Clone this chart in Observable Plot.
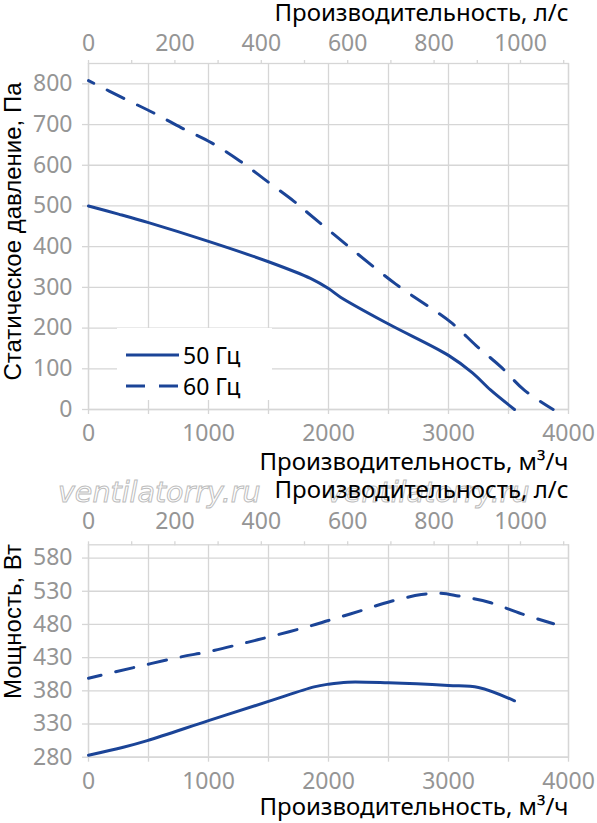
<!DOCTYPE html>
<html><head><meta charset="utf-8">
<script src="https://cdn.jsdelivr.net/npm/d3@7"></script>
<script src="https://cdn.jsdelivr.net/npm/@observablehq/plot@0.6"></script>
<style>
html,body{margin:0;padding:0;background:#fff;}
#wrap{position:relative;width:597px;height:823px;overflow:hidden;}
#wrap svg.chart{position:absolute;left:0;}
#wm{position:absolute;left:0;top:0;}
.legend{position:absolute;left:117px;top:328px;width:155px;height:72px;background:#fff;font:23px "Noto Sans";color:#000;}
.legend .row{position:absolute;left:9px;height:30px;display:flex;align-items:center;}
.legend .row svg{margin-right:4px;}
</style></head><body>
<div id="wrap"></div>
<script>
// ---------- data ----------
const flow50 = [0, 250, 500, 1000, 1500, 1850, 2000, 2100, 2500, 3000, 3200, 3350, 3550];
const pres50 = [500, 480, 459, 413, 363, 322, 297, 276, 210, 133, 90, 48, 0];
const flow60 = [0, 290, 540, 775, 1026, 1264, 1487, 1710, 1808, 2128, 2561, 3021, 3230, 3439, 3634, 3872];
const pres60 = [808, 765, 729, 692, 655, 610, 561, 512, 488, 410, 308, 214, 157, 104, 47, 0];

const flowP50 = [0, 290, 490, 1000, 1500, 1880, 2000, 2160, 2500, 3000, 3250, 3550];
const power50 = [283, 295, 305, 335, 364, 386, 390, 393, 392, 388, 385, 365];
const flowP60 = [0, 376, 767, 1000, 1324, 1500, 1854, 2000, 2258, 2523, 2774, 2926, 3080, 3345, 3610, 3875];
const power60 = [399, 415, 431, 439, 453, 461, 478, 486, 500, 515, 525, 527, 523, 513, 496, 481];

const flowTicks = [0, 1000, 2000, 3000, 4000];
const flowGrid = [0, 500, 1000, 1500, 2000, 2500, 3000, 3500, 4000];
const lsTicks = [0, 200, 400, 600, 800, 1000];
const lsMinor = [0, 100, 200, 300, 400, 500, 600, 700, 800, 900, 1000, 1100];
const presTicks = [0, 100, 200, 300, 400, 500, 600, 700, 800];
const powerTicks = [280, 330, 380, 430, 480, 530, 580];
const seriesNames = ["50 Гц", "60 Гц"];
const LS = 3.6; // m3/h per l/s

const flowTitle = "Производительность, м³/ч";
const lsTitle = "Производительность, л/с";
const presTitle = "Статическое давление, Па";
const powerTitle = "Мощность, Вт";
const watermark = "ventilatorry.ru";

// ---------- style ----------
const BLUE = "#1b4497";
const GRID = "#d6d6d6";
const TICKC = "#959595";
const FONT = "Noto Sans";
const TFONT = "Liberation Sans";
const DASH = "18.5,15";

const rows = (xs, ys) => xs.map((x, i) => ({x, y: ys[i]}));

function chart({height, marginTop, marginBottom, yDomain, yTicks, s1, s2, yTitle, yTitleDy, topPad, botPad, dashOffset, botTitleDy, topTitleDy}) {
  return Plot.plot({
    width: 597, height,
    marginTop, marginBottom, marginLeft: 88, marginRight: 29,
    style: {background: "transparent", fontFamily: FONT, fontSize: "23px", overflow: "visible"},
    x: {domain: [0, 4000]},
    y: {domain: yDomain},
    marks: [
      Plot.gridX(flowGrid, {stroke: GRID, strokeOpacity: 1, strokeWidth: 1.3}),
      Plot.gridY(yTicks, {stroke: GRID, strokeOpacity: 1, strokeWidth: 1.3}),
      Plot.frame({stroke: GRID, strokeWidth: 1.3}),
      // bottom tick marks
      Plot.axisX(flowGrid, {anchor: "bottom", tickSize: 5, stroke: GRID, strokeWidth: 1.3, tickFormat: () => "", label: null}),
      // bottom labels
      Plot.axisX(flowTicks, {anchor: "bottom", tickSize: 0, tickPadding: botPad, fill: TICKC, tickFormat: d => String(d), label: null}),
      // top minor ticks (l/s)
      Plot.axisX(lsMinor.map(v => v * LS), {anchor: "top", tickSize: 4, stroke: GRID, strokeWidth: 1.3, tickFormat: () => "", label: null}),
      // top labels (l/s)
      Plot.axisX(lsTicks.map(v => v * LS), {anchor: "top", tickSize: 0, tickPadding: topPad, fill: TICKC, tickFormat: d => String(Math.round(d / LS)), label: null}),
      // y axis
      Plot.axisY(yTicks, {anchor: "left", tickSize: 6, tickPadding: 10, stroke: GRID, strokeWidth: 1.3, fill: TICKC, tickFormat: d => String(d), label: null}),
      // titles
      Plot.text([flowTitle], {text: d => d, frameAnchor: "bottom-right", textAnchor: "end", lineAnchor: "middle", dy: botTitleDy, fill: "#000", fontFamily: FONT, fontSize: 24}),
      Plot.text([lsTitle], {text: d => d, frameAnchor: "top-right", textAnchor: "end", lineAnchor: "middle", dy: topTitleDy, fill: "#000", fontFamily: FONT, fontSize: 24}),
      Plot.text([yTitle], {text: d => d, frameAnchor: "left", rotate: -90, textAnchor: "middle", lineAnchor: "middle", dx: -75, dy: yTitleDy, fill: "#000", fontFamily: TFONT, fontSize: 24}),
      // series
      Plot.line(s1, {x: "x", y: "y", stroke: BLUE, strokeWidth: 3, curve: "catmull-rom"}),
      Plot.line(s2, {x: "x", y: "y", stroke: BLUE, strokeWidth: 3, curve: "catmull-rom", strokeDasharray: DASH, strokeDashoffset: dashOffset})
    ]
  });
}

const wrap = document.getElementById("wrap");

// watermark (behind the charts)
const wm = d3.select(wrap).append("svg").attr("id", "wm").attr("width", 597).attr("height", 823);
[58, 327].forEach(x0 => {
  wm.append("text").attr("x", x0).attr("y", 501.5)
    .attr("font-family", "DejaVu Sans").attr("font-style", "italic").attr("font-size", 28.5)
    .attr("fill", "#fff").attr("stroke", "#bdbdbd").attr("stroke-width", 1)
    .text(watermark);
});

const c1 = chart({
  height: 475, marginTop: 63, marginBottom: 66,
  yDomain: [0, 850], yTicks: presTicks,
  s1: rows(flow50, pres50), s2: rows(flow60, pres60),
  yTitle: presTitle, yTitleDy: -5, topPad: 13, botPad: 15, dashOffset: 12.5,
  botTitleDy: 53, topTitleDy: -50
});
c1.classList.add("chart");
c1.style.top = "0px";
wrap.appendChild(c1);

const c2 = chart({
  height: 348, marginTop: 69.3, marginBottom: 66.3,
  yDomain: [280, 600], yTicks: powerTicks,
  s1: rows(flowP50, power50), s2: rows(flowP60, power60),
  yTitle: powerTitle, yTitleDy: -29.5, topPad: 15.5, botPad: 15, dashOffset: 5.5,
  botTitleDy: 50, topTitleDy: -54
});
c2.classList.add("chart");
c2.style.top = "475px";
wrap.appendChild(c2);

// legend
const legend = d3.select(wrap).append("div").attr("class", "legend");
seriesNames.forEach((name, i) => {
  const row = legend.append("div").attr("class", "row").style("top", (12 + i * 30.7) + "px");
  const s = row.append("svg").attr("width", 53).attr("height", 6);
  s.append("line").attr("x1", 0).attr("x2", 53).attr("y1", 3).attr("y2", 3)
    .attr("stroke", BLUE).attr("stroke-width", 3)
    .attr("stroke-dasharray", i === 1 ? "19,14" : null);
  row.append("span").text(name);
});
</script>
</body></html>
